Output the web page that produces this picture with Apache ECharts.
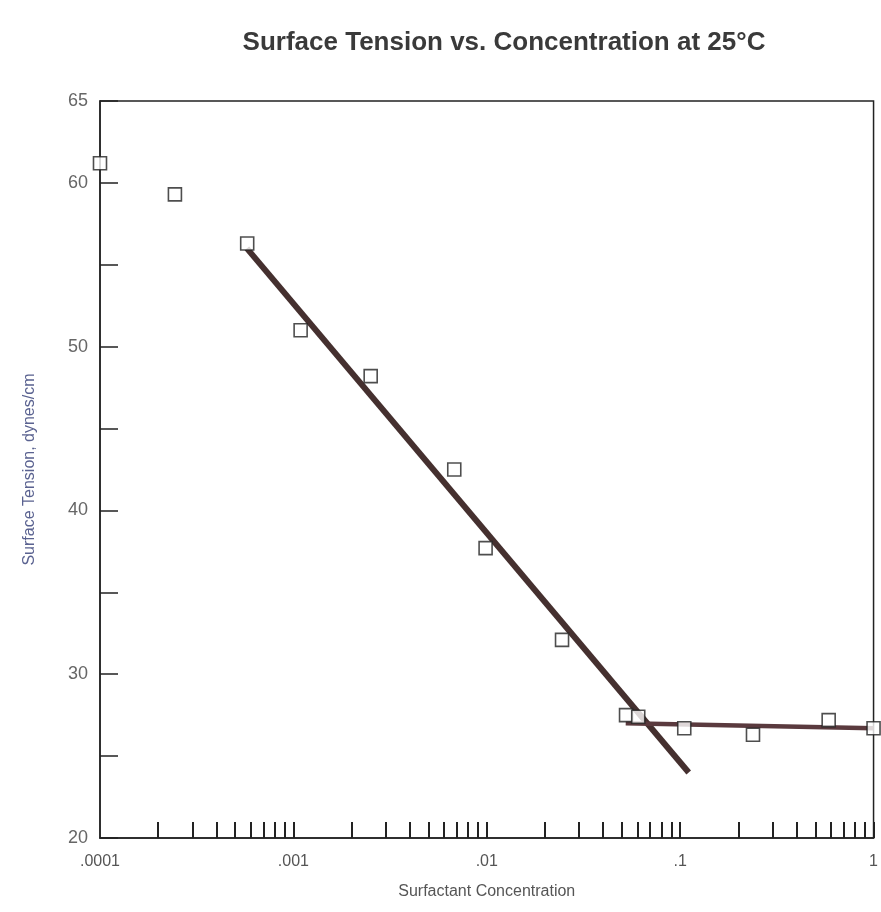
<!DOCTYPE html>
<html>
<head>
<meta charset="utf-8">
<script src="https://cdn.jsdelivr.net/npm/echarts@6/dist/echarts.min.js"></script>
<style>
  html, body { margin: 0; padding: 0; background: #fff; }
  #chart { width: 881px; height: 912px; }
</style>
</head>
<body>
<div id="chart"></div>
<script>
// measured points
const concentration = [0.0001, 0.000244, 0.000577, 0.00109, 0.00251, 0.00679, 0.00986, 0.0245, 0.0525, 0.0607, 0.105, 0.238, 0.586, 1.0]
const tension = [61.2, 59.3, 56.3, 51.0, 48.2, 42.5, 37.7, 32.1, 27.5, 27.4, 26.7, 26.3, 27.2, 26.7]

// fitted lines (end points)
const steepFit = [[0.000575, 56.0], [0.1107, 24.0]]
const flatFit = [[0.0523, 27.0], [1.0, 26.7]]

// axis ticks / labels
const xTickLabels = ['.0001', '.001', '.01', '.1', '1']
const xMinorTicks = [
  0.0002, 0.0003, 0.0004, 0.0005, 0.0006, 0.0007, 0.0008, 0.0009, 0.001,
  0.002, 0.003, 0.004, 0.005, 0.006, 0.007, 0.008, 0.009, 0.01,
  0.02, 0.03, 0.04, 0.05, 0.06, 0.07, 0.08, 0.09, 0.1,
  0.2, 0.3, 0.4, 0.5, 0.6, 0.7, 0.8, 0.9, 1
]
const yLabelValues = [20, 30, 40, 50, 60, 65]

const chart = echarts.init(document.getElementById('chart'))

const font = 'Liberation Sans, Arial, sans-serif'

const option = {
  backgroundColor: '#fff',
  animation: false,
  title: {
    text: 'Surface Tension vs. Concentration at 25°C',
    left: 499,
    top: 25,
    textAlign: 'center',
    textStyle: { fontFamily: font, fontSize: 26, fontWeight: 'bold', color: '#3a3a3a' }
  },
  grid: {
    left: 100, right: 4, top: 101, bottom: 74,
    show: true, borderColor: '#222', borderWidth: 1.5
  },
  xAxis: [
    {
      type: 'log',
      logBase: 10,
      min: 0.0001,
      max: 1,
      name: 'Surfactant Concentration',
      nameLocation: 'middle',
      nameGap: 46,
      nameTextStyle: { fontFamily: font, fontSize: 16, color: '#555' },
      axisLine: { onZero: false, lineStyle: { color: '#222', width: 1.5 } },
      axisTick: { show: false },
      splitLine: { show: false },
      axisLabel: {
        margin: 16,
        fontFamily: font,
        fontSize: 16,
        color: '#555',
        formatter: (v) => xTickLabels[Math.round(Math.log10(v)) + 4]
      }
    },
    {
      // overlay axis used only for the 2..9 log ticks
      type: 'value',
      min: -4,
      max: 0,
      position: 'bottom',
      axisLine: { show: false, onZero: false },
      axisLabel: { show: false },
      splitLine: { show: false },
      axisTick: {
        show: true,
        inside: true,
        length: 16,
        customValues: xMinorTicks.map(v => Math.log10(v)),
        lineStyle: { color: '#222', width: 2 }
      }
    }
  ],
  yAxis: {
    type: 'value',
    min: 20,
    max: 65,
    interval: 5,
    name: 'Surface Tension, dynes/cm',
    nameLocation: 'middle',
    nameGap: 62,
    nameTextStyle: { fontFamily: font, fontSize: 16, color: '#5a6290' },
    axisLine: { show: true, onZero: false, lineStyle: { color: '#222', width: 1.5 } },
    axisTick: { show: true, inside: true, length: 18, lineStyle: { color: '#222', width: 1.5 } },
    splitLine: { show: false },
    axisLabel: {
      margin: 12,
      fontFamily: font,
      fontSize: 18,
      color: '#666',
      formatter: (v) => yLabelValues.includes(v) ? String(v) : ''
    }
  },
  series: [
    {
      type: 'line',
      data: steepFit,
      symbol: 'none',
      lineStyle: { color: '#45302f', width: 6 },
      z: 2
    },
    {
      type: 'line',
      data: flatFit,
      symbol: 'none',
      lineStyle: { color: '#5a3a3e', width: 4.5 },
      z: 2
    },
    {
      type: 'scatter',
      data: concentration.map((c, i) => [c, tension[i]]),
      symbol: 'rect',
      symbolSize: 13,
      itemStyle: { color: '#fff', borderColor: '#222', borderWidth: 1.6 },
      z: 3
    }
  ]
}

chart.setOption(option)
</script>
</body>
</html>
